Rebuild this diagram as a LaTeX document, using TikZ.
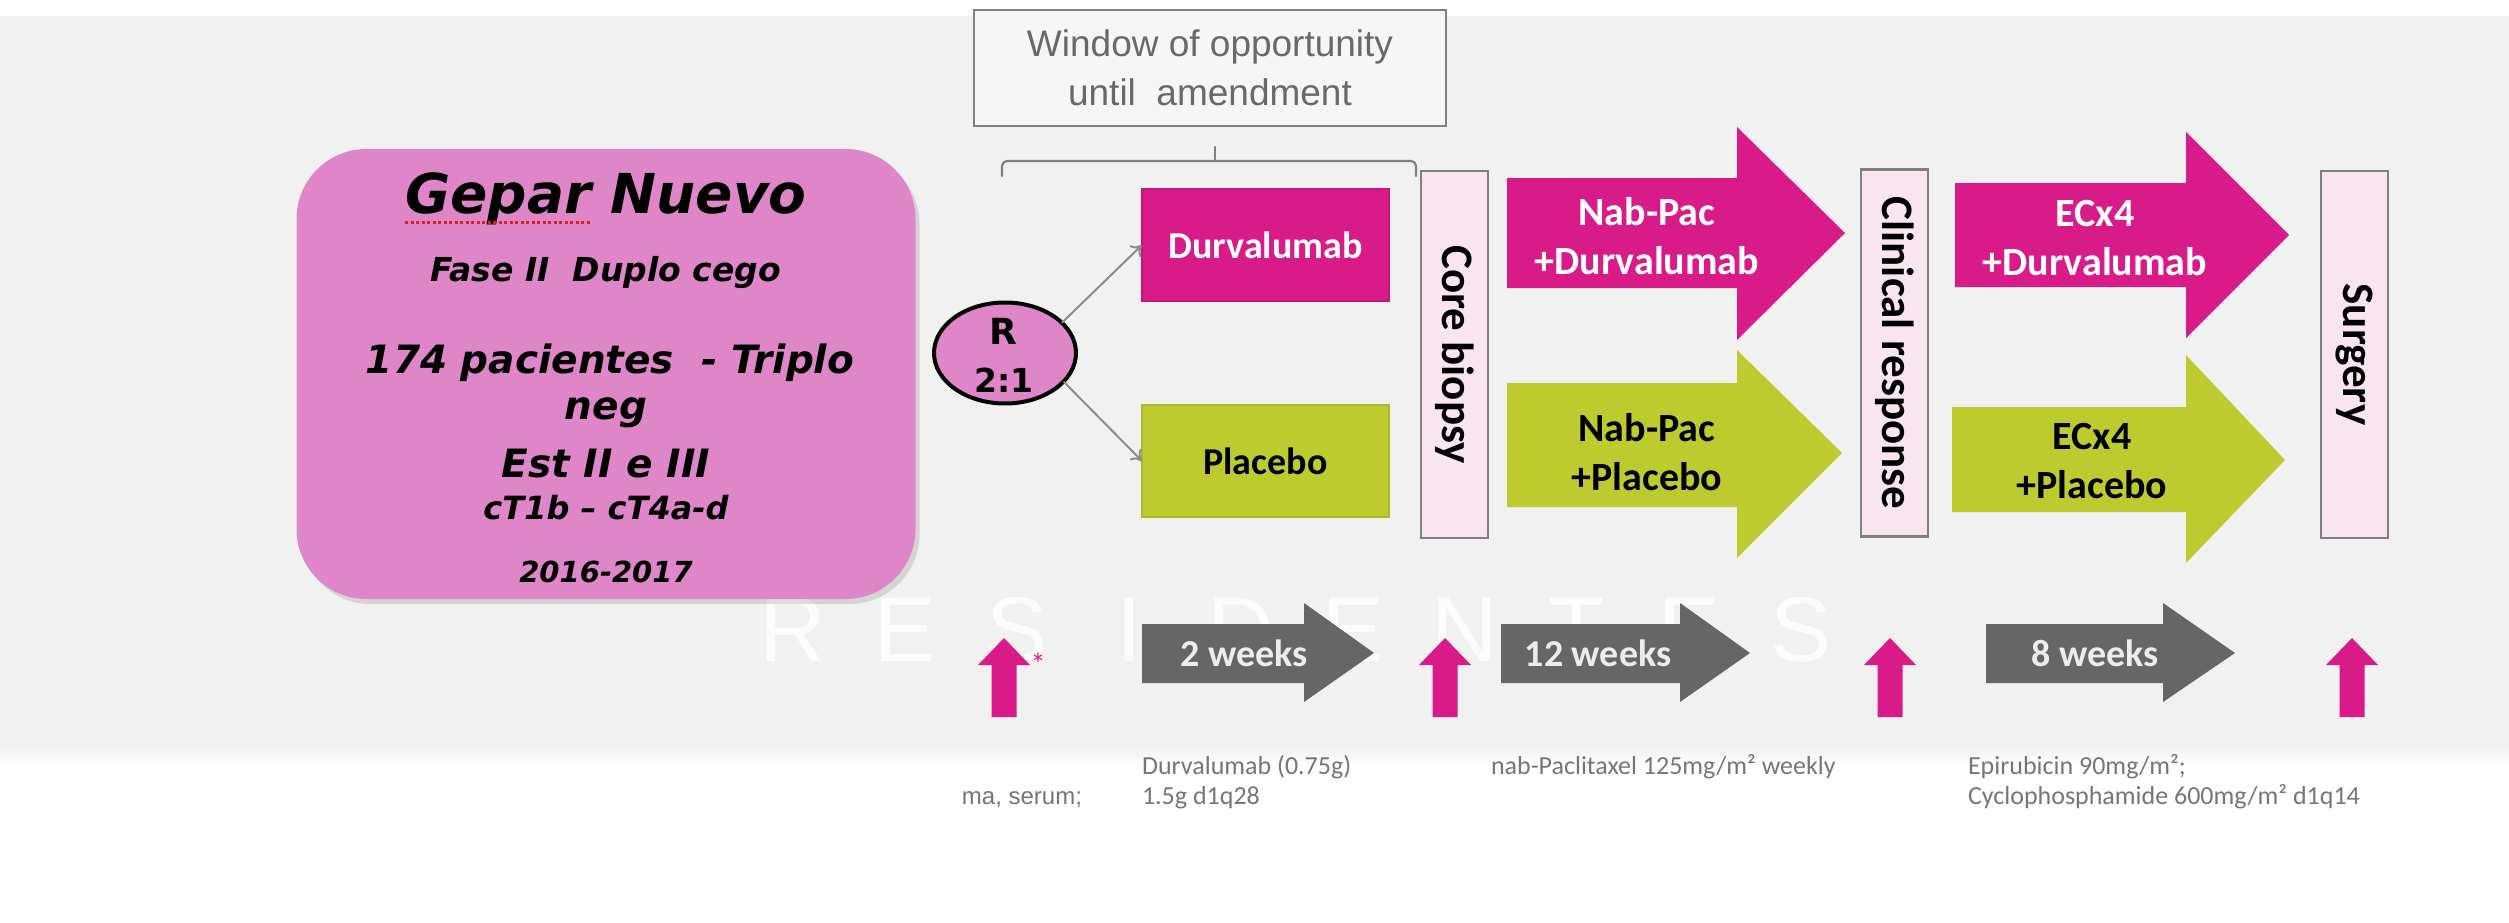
\documentclass[tikz,border=0pt]{standalone}
\usepackage{fontspec}
\setmainfont{Carlito}
\newfontfamily\verdana{DejaVu Sans}[BoldFont={DejaVu Sans Bold},BoldItalicFont={DejaVu Sans Bold Oblique}]
\newfontfamily\arialf{Liberation Sans}
\usetikzlibrary{shapes.geometric,arrows.meta,shadows}

\definecolor{bggray}{RGB}{241,241,241}
\definecolor{orchid}{RGB}{222,134,200}
\definecolor{mag}{RGB}{216,27,137}
\definecolor{magedge}{RGB}{196,22,124}
\definecolor{limeg}{RGB}{190,203,46}
\definecolor{limeedge}{RGB}{172,184,40}
\definecolor{palepink}{RGB}{249,229,240}
\definecolor{boxgray}{RGB}{128,128,128}
\definecolor{arrowgray}{RGB}{102,102,102}
\definecolor{weektext}{RGB}{236,236,236}
\definecolor{notegray}{RGB}{118,118,118}
\definecolor{conngray}{RGB}{140,140,140}
\definecolor{wintext}{RGB}{105,105,105}
\definecolor{winfill}{RGB}{246,246,246}
\definecolor{spellred}{RGB}{225,30,30}

\begin{document}
\begin{tikzpicture}[x=1pt,y=-1pt,
  every node/.style={inner sep=0pt,outer sep=0pt},
  armbox/.style={rectangle,minimum width=247,minimum height=112,line width=2,
    font=\bfseries\fontsize{38}{38}\selectfont},
  vbox/.style={rectangle,draw=boxgray,line width=2.5,fill=palepink,
    minimum width=367,minimum height=67,rotate=-90,
    font=\bfseries\fontsize{45}{45}\selectfont,text=black},
  armtext/.style={align=center,font=\bfseries\fontsize{40}{49}\selectfont},
  wktext/.style={font=\bfseries\fontsize{38}{38}\selectfont,text=weektext},
  note/.style={anchor=base west,font=\fontsize{26}{31}\selectfont,text=notegray},
  conn/.style={draw=conngray,line width=2,-{To[length=10pt,width=16pt]}},
  bracket/.style={draw=boxgray,line width=2.2,line cap=round},
  upmark/.style={fill=mag},
]
\useasboundingbox (0,0) rectangle (2509,923);

% background bands
\fill[white] (0,0) rectangle (2509,923);
\fill[bggray] (0,16) rectangle (2509,748);
\shade[top color=bggray,bottom color=white] (0,747) rectangle (2509,766);

% light lettering behind the time line
\foreach \l [count=\i from 0] in {R,E,S,I,D,E,N,T,E,S}
  \node[font=\arialf\fontsize{92}{92}\selectfont,text=white,text opacity=0.85] (res\i) at (793+112*\i,630) {\l};

% study summary
\node[fill=orchid,rounded corners=70,minimum width=619,minimum height=450,
  drop shadow={opacity=0.25,shadow xshift=4pt,shadow yshift=-5pt}] (gepar) at (606,374) {};
\node[anchor=south,text width=619,align=flush center,font=\verdana\bfseries\itshape] (gtxt) at (606,583) {%
  \parindent=0pt\parskip=0pt\lineskiplimit=-300pt\lineskip=0pt
  \fontsize{55}{55}\selectfont Gepar Nuevo\par
  \fontsize{33}{68}\selectfont Fase II\ \ Duplo cego\par
  \fontsize{39}{92}\selectfont \hspace*{8pt}174 pacientes\ \ - Triplo\par
  \fontsize{39}{46}\selectfont neg\par
  \fontsize{39}{58}\selectfont Est II e III\par
  \fontsize{32}{42}\selectfont cT1b – cT4a-d\par
  \fontsize{29}{63}\selectfont 2016-2017\par};
\coordinate (spellL) at (405,222);
\coordinate (spellR) at (591,222);
\draw[spellred,line width=3,dash pattern=on 3pt off 2.5pt] (spellL) -- (spellR);

% window of opportunity and its bracket
\node[draw=boxgray,line width=2.5,fill=winfill,minimum width=472,minimum height=116,
  align=center,font=\arialf\fontsize{37}{49}\selectfont,text=wintext] (win) at (1210,68)
  {Window of opportunity\\until\ \ amendment};
\coordinate (brL) at (1002,176);
\coordinate (brR) at (1416,176);
\coordinate (brM) at (1215,161);
\draw[bracket,rounded corners=5] (brL) -- (1002,161) -- (1416,161) -- (brR);
\draw[bracket] (brM) -- (1215,147);

% randomisation
\node[ellipse,draw=black,line width=4,fill=orchid,minimum width=142,minimum height=101] (R) at (1005,353) {};
\node[font=\verdana\bfseries\fontsize{36}{36}\selectfont] (Rtop) at (1003,331) {R};
\node[font=\verdana\bfseries\fontsize{33}{33}\selectfont] (Rratio) at (1004,380) {2:1};

% window arms
\node[armbox,fill=mag,draw=magedge,text=white] (dur) at (1265.5,245) {Durvalumab};
\node[armbox,fill=limeg,draw=limeedge,text=black] (plac) at (1265.5,461) {Placebo};
\draw[conn] (R.28) -- (dur.west);
\draw[conn] (R.-26) -- (plac.west);

% milestones
\node[vbox] (core) at (1454.5,354.5) {Core biopsy};
\node[vbox] (clin) at (1894.5,353) {Clinical response};
\node[vbox] (surg) at (2354.5,354.5) {Surgery};

% treatment arrows
\fill[mag] (1507,178) -- (1737,178) -- (1737,127) -- (1845,233) -- (1737,340) -- (1737,288) -- (1507,288) -- cycle;
\fill[limeg] (1507,383) -- (1737,383) -- (1737,350) -- (1842,453) -- (1737,558) -- (1737,507) -- (1507,507) -- cycle;
\fill[mag] (1955,183) -- (2186,183) -- (2186,132) -- (2289,235) -- (2186,338) -- (2186,287) -- (1955,287) -- cycle;
\fill[limeg] (1952,407) -- (2186,407) -- (2186,355) -- (2285,460) -- (2186,563) -- (2186,512) -- (1952,512) -- cycle;
\node[armtext,text=white] (npd) at (1647,236) {Nab-Pac\\+Durvalumab};
\node[armtext,text=black] (npp) at (1647,452) {Nab-Pac\\+Placebo};
\node[armtext,text=white] (ecd) at (2095,238) {ECx4\\+Durvalumab};
\node[armtext,text=black] (ecp) at (2092,461) {ECx4\\+Placebo};

% time line
\fill[arrowgray] (1142,624) -- (1304,624) -- (1304,603) -- (1374,653) -- (1304,702) -- (1304,683) -- (1142,683) -- cycle;
\fill[arrowgray] (1501,624) -- (1680,624) -- (1680,603) -- (1750,653) -- (1680,702) -- (1680,683) -- (1501,683) -- cycle;
\fill[arrowgray] (1986,624) -- (2163,624) -- (2163,603) -- (2235,653) -- (2163,702) -- (2163,683) -- (1986,683) -- cycle;
\node[wktext] (w2) at (1244,653) {2 weeks};
\node[wktext] (w12) at (1598,653) {12 weeks};
\node[wktext] (w8) at (2095,653) {8 weeks};

\foreach \x in {1004,1445,1890,2352}
  \fill[upmark] (\x-12.5,717) -- (\x-12.5,665) -- (\x-26,665) -- (\x,638) -- (\x+26,665) -- (\x+12.5,665) -- (\x+12.5,717) -- cycle;
\node[font=\fontsize{30}{30}\selectfont,text=mag] (ast) at (1038,664) {*};

% dosing notes
\node[note,anchor=base east,font=\arialf\fontsize{24}{24}\selectfont] (n0) at (1082,804) {ma, serum;};
\node[note] (n1a) at (1142,774) {Durvalumab (0.75g)};
\node[note] (n1b) at (1142,804) {1.5g d1q28};
\node[note] (n2) at (1491,774) {nab-Paclitaxel 125mg/m² weekly};
\node[note] (n3a) at (1968,774) {Epirubicin 90mg/m²;};
\node[note] (n3b) at (1968,804) {Cyclophosphamide 600mg/m² d1q14};
\end{tikzpicture}
\end{document}
